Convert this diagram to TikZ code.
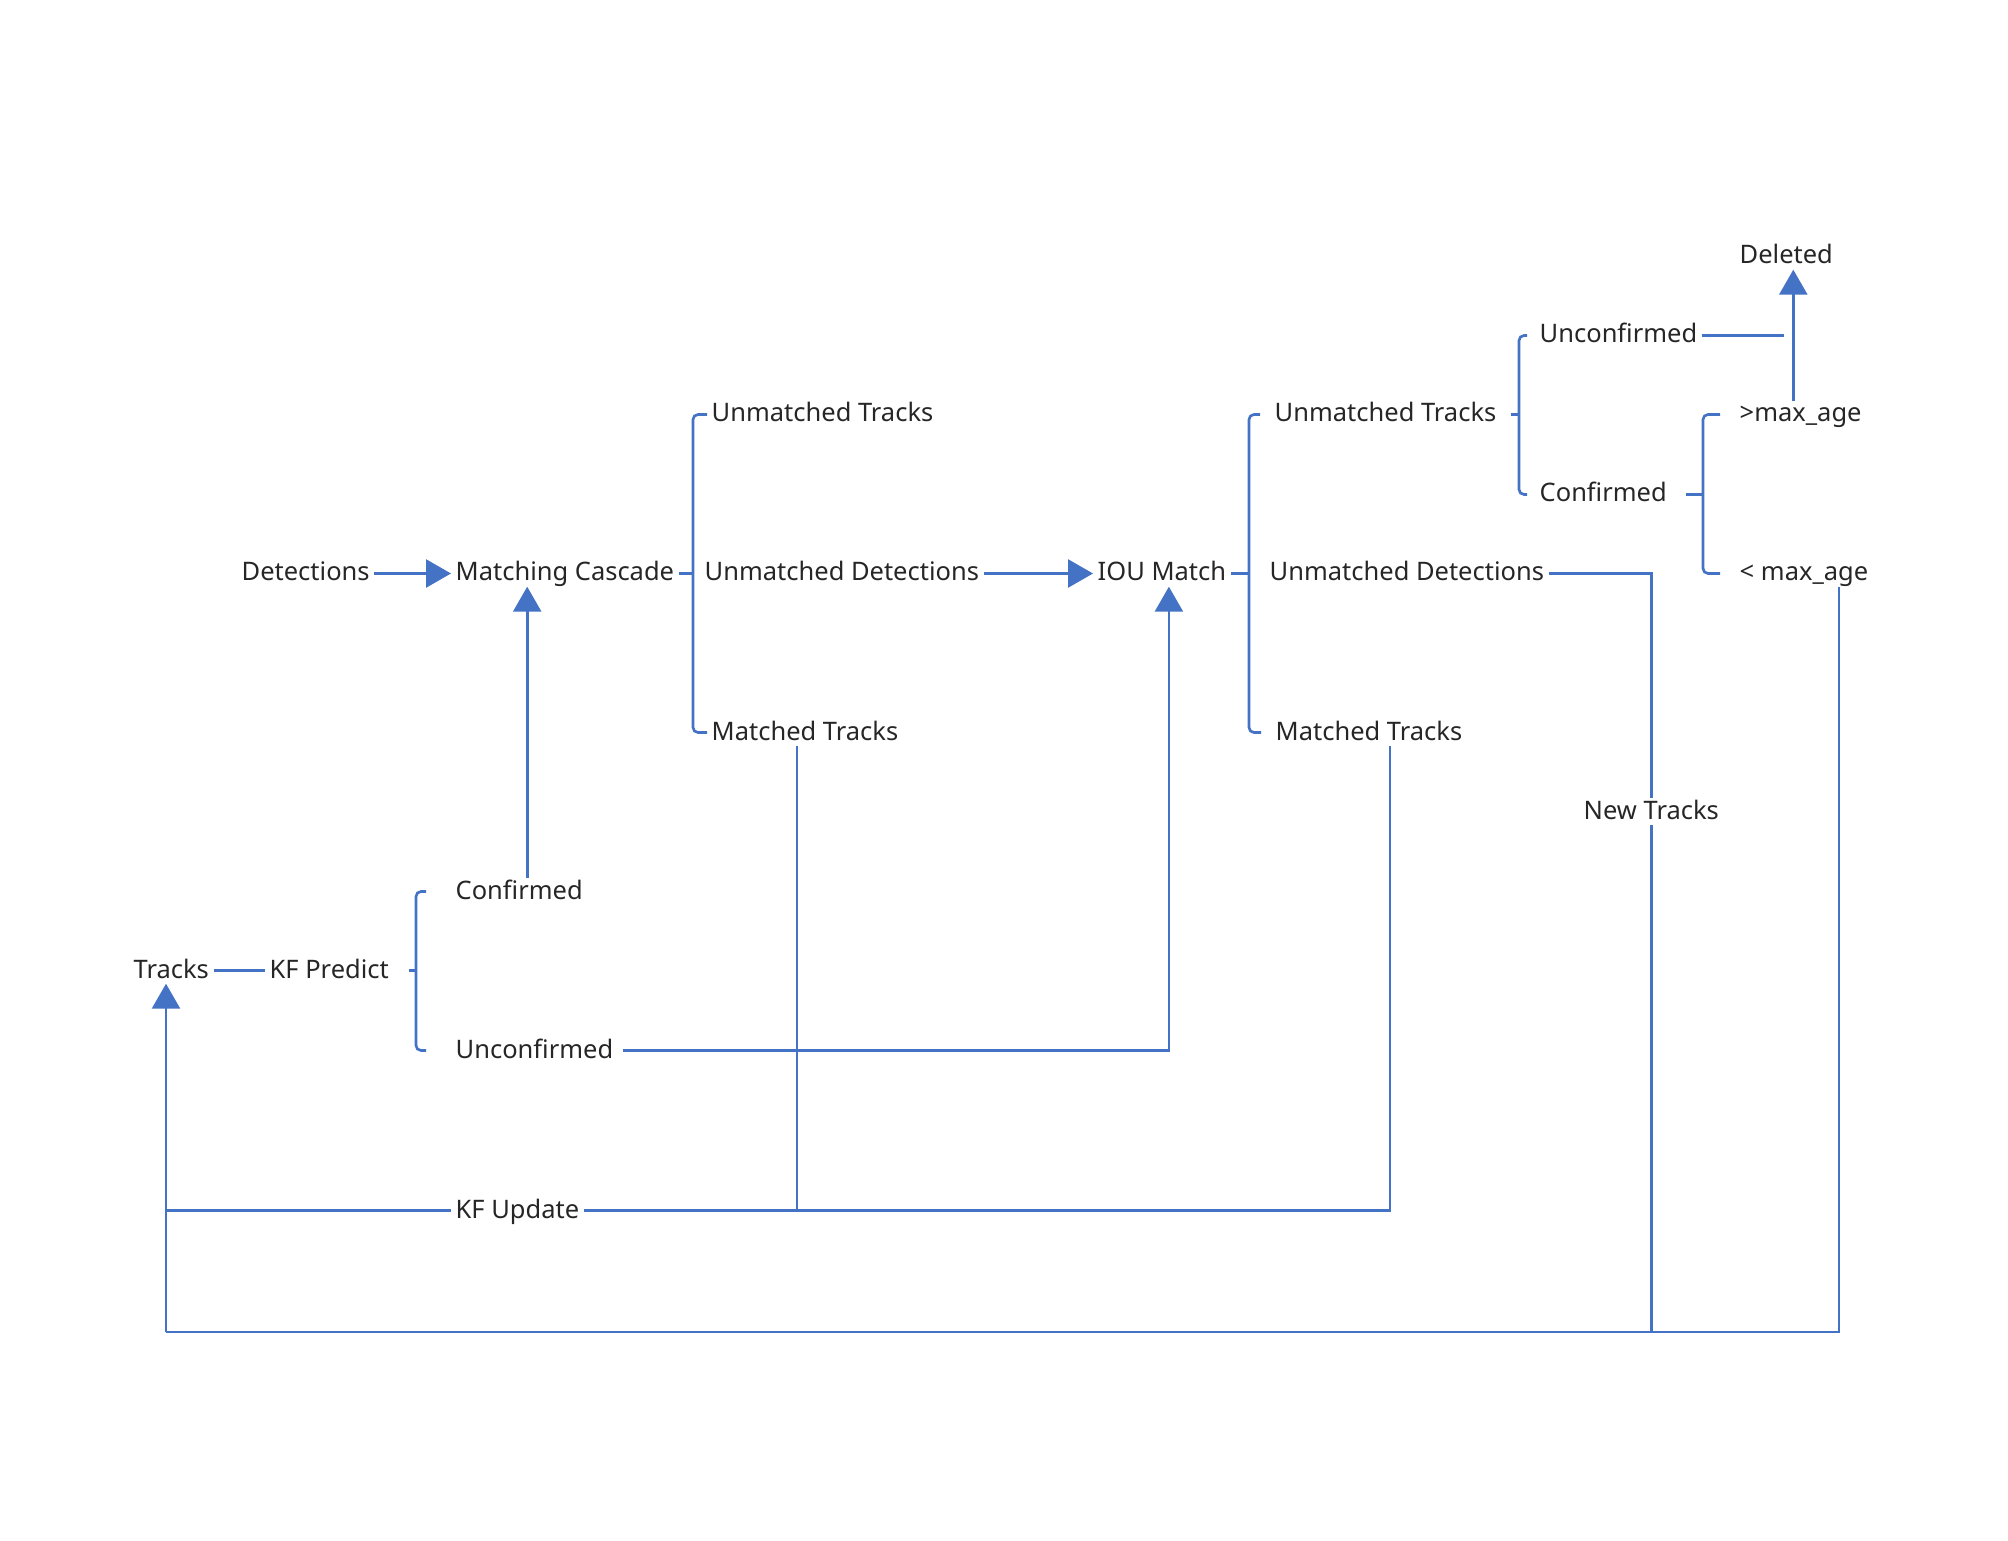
\documentclass[tikz,border=0pt]{standalone}
\usepackage{fontspec}
\setmainfont{Noto Sans}
\usetikzlibrary{arrows.meta}
\definecolor{lineblue}{HTML}{4472C4}
\tikzset{lbl/.style={anchor=west, inner xsep=0.4mm, inner ysep=0pt, text height=2mm, text depth=0.5mm,
    yshift=-0.25mm, font=\fontsize{7.25}{9}\selectfont, text=black!85}}
\tikzset{link/.style={draw=lineblue, line width=0.75pt}}
\tikzset{arr/.style={link, -{Triangle[length=2.5mm, width=2.8mm]}}}
\tikzset{brace/.style={link, rounded corners=0.5mm}}

\begin{document}
\begin{tikzpicture}[x=0.1mm, y=-0.1mm]
    \useasboundingbox (0,0) rectangle (2008,1541);

    % labels
    \node[lbl] (det) at (237,571) {Detections};
    \node[lbl] (mc) at (451,571) {Matching Cascade};
    \node[lbl] (utA) at (707,412) {Unmatched Tracks};
    \node[lbl] (udA) at (700,571) {Unmatched Detections};
    \node[lbl] (mtA) at (707,730) {Matched Tracks};
    \node[lbl] (iou) at (1093,571) {IOU Match};
    \node[lbl] (utB) at (1270,412) {Unmatched Tracks};
    \node[lbl] (udB) at (1265,571) {Unmatched Detections};
    \node[lbl] (mtB) at (1271,730) {Matched Tracks};
    \node[lbl] (ucT) at (1535,333) {Unconfirmed};
    \node[lbl] (cfT) at (1535,492) {Confirmed};
    \node[lbl] (del) at (1735,254) {Deleted};
    \node[lbl] (gt) at (1735,412) {>max\_age};
    \node[lbl] (lt) at (1735,571) {< max\_age};
    \node[lbl] (new) at (1579,809) {New Tracks};
    \node[lbl] (cfB) at (451,889) {Confirmed};
    \node[lbl] (ucB) at (451,1048) {Unconfirmed};
    \node[lbl] (trk) at (129,968) {Tracks};
    \node[lbl] (kfp) at (265,968) {KF Predict};
    \node[lbl] (kfu) at (451,1208) {KF Update};

    \coordinate (b1) at (693,571);
    \coordinate (b2) at (1249,571);
    \coordinate (b3) at (1519,412);
    \coordinate (b4) at (1703,492);
    \coordinate (b5) at (416,968);
    \coordinate (d1) at (1784,335);
    \coordinate (sw) at (166,1332);

    % brackets
    \draw[link] (mc.east) -- (mc.east -| b1);
    \draw[brace] (utA.west) -| (b1) |- (mtA.west);
    \draw[link] (iou.east) -- (iou.east -| b2);
    \draw[brace] ([xshift=-1mm]utB.west) -| (b2) |- ([xshift=-1mm]mtB.west);
    \draw[link] ([xshift=1mm]utB.east) -- (utB.east -| b3);
    \draw[brace] ([xshift=-0.8mm]ucT.west) -| (b3) |- ([xshift=-0.8mm]cfT.west);
    \draw[link] ([xshift=1.5mm]cfT.east) -- (cfT.east -| b4);
    \draw[brace] ([xshift=-1.5mm]gt.west) -| (b4) |- ([xshift=-1.5mm]lt.west);
    \draw[link] ([xshift=1.5mm]kfp.east) -- (kfp.east -| b5);
    \draw[brace] ([xshift=-2.5mm]cfB.west) -| (b5) |- ([xshift=-2.5mm]ucB.west);

    % flow
    \draw[link] (trk.east) -- (kfp.west);
    \draw[arr] (det.east) -- (mc.west);
    \draw[arr] ([xshift=0.8mm]cfB.north) -- ([xshift=0.8mm]cfB.north |- mc.south);
    \draw[arr] (udA.east) -- (iou.west);
    \draw[arr] ([xshift=0.5mm]ucB.east) -| ([xshift=0.7mm]iou.south);
    \draw[link] ([xshift=-0.8mm]mtA.south) -- ([xshift=-0.8mm]mtA.south |- kfu.east);
    \draw[link] ([xshift=2.1mm]mtB.south) |- (kfu.east);
    \draw[link] (kfu.west) -- (kfu.west -| sw);
    \draw[arr] (sw) -- (sw |- trk.south);
    \draw[link] ([xshift=3.5mm]lt.south) |- (sw);
    \draw[link] (udB.east) -| (new.north);
    \draw[link] (new.south) -- (new.south |- sw);
    \draw[link] (ucT.east) -- (ucT.east -| d1);
    \draw[arr] ([xshift=0.7mm]del.south |- gt.north) -- ([xshift=0.7mm]del.south);
\end{tikzpicture}
\end{document}
